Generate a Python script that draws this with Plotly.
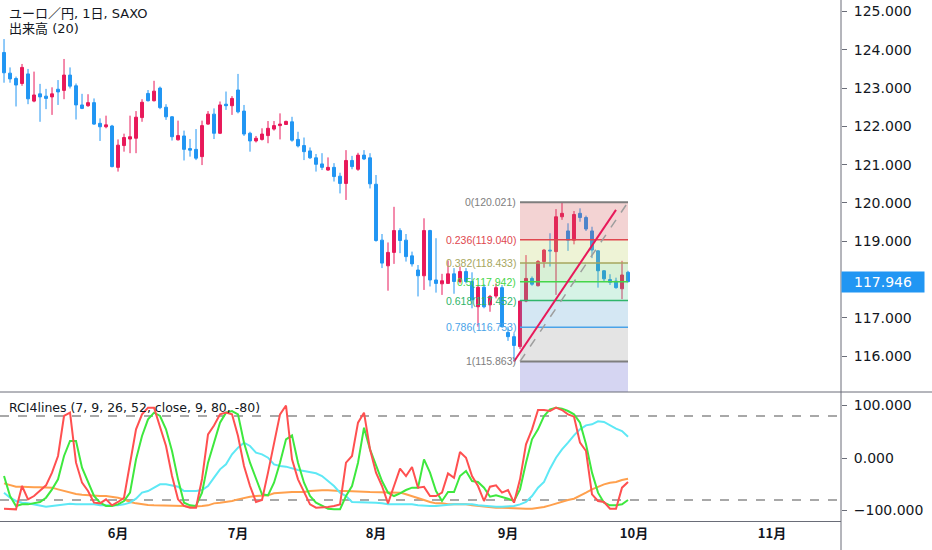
import pandas as pd
import plotly.graph_objects as go

# daily bars, EUR/JPY (SAXO), 2019-05-07 .. 2019-09-30
dates = pd.bdate_range("2019-05-07", "2019-09-30")

opens = [
    123.93, 123.39, 123.25, 123.12, 123.37, 122.66, 122.85, 122.79, 122.77, 122.97,
    122.94, 123.34, 123.06, 122.56, 122.54, 122.62, 122.08, 121.99, 122.01,
    120.93, 121.50, 121.67, 121.69, 122.23, 122.86, 122.67, 123.00, 122.50, 122.25,
    121.65, 121.75, 121.42, 121.40, 121.21, 122.06, 122.32, 121.82, 122.58, 122.54,
    122.95, 122.40, 121.82, 121.62, 121.66, 121.76, 121.93, 122.02, 122.05, 122.12,
    121.66, 121.50, 121.36, 121.18, 121.02, 120.86, 120.93, 120.70, 120.51, 121.11,
    120.88, 121.25, 121.18, 120.49, 119.03, 118.36, 118.71, 119.28, 119.03, 118.62,
    118.25, 118.10, 119.28, 117.99, 117.89, 117.90, 118.15, 117.95, 118.21, 117.95,
    117.29, 117.80, 117.34, 117.57, 117.79, 116.62, 116.51, 116.25, 117.44, 118.03,
    117.84, 118.47, 118.77, 118.73, 119.64, 119.27, 119.03, 119.73, 119.62, 119.27,
    118.75, 118.23, 118.00, 117.96, 117.76, 118.19,
]
highs = [
    124.28, 123.54, 123.30, 123.63, 123.50, 123.43, 123.11, 122.98, 123.02, 123.21,
    123.76, 123.54, 123.12, 122.85, 122.84, 122.73, 122.21, 122.28, 122.04,
    121.66, 121.81, 122.28, 122.40, 122.71, 122.95, 123.19, 123.04, 122.58, 122.27,
    122.15, 121.89, 121.67, 121.93, 122.15, 122.40, 122.47, 122.65, 122.91, 122.79,
    123.37, 122.56, 121.86, 121.75, 121.95, 122.14, 122.14, 122.34, 122.15, 122.25,
    121.86, 121.71, 121.45, 121.28, 121.30, 121.19, 121.04, 120.79, 121.38, 121.23,
    121.31, 121.38, 121.30, 120.73, 119.19, 118.97, 119.90, 119.34, 119.19, 118.73,
    118.38, 119.60, 119.30, 119.08, 118.15, 118.50, 118.30, 118.34, 118.30, 118.19,
    117.86, 117.88, 117.60, 117.90, 117.86, 116.77, 116.60, 117.44, 118.64, 118.08,
    118.51, 118.80, 119.21, 119.84, 120.021, 119.47, 119.79, 119.86, 119.67, 119.38,
    118.77, 118.25, 118.14, 118.05, 118.49, 118.23,
]
lows = [
    123.14, 123.14, 122.52, 123.06, 122.58, 122.63, 122.12, 122.45, 122.30, 122.56,
    122.71, 122.99, 122.18, 122.45, 122.51, 122.04, 121.62, 121.95, 120.93,
    120.82, 121.34, 121.30, 121.30, 122.12, 122.65, 122.65, 122.45, 122.17, 121.63,
    121.63, 121.11, 121.21, 121.12, 120.99, 122.04, 121.67, 121.80, 122.43, 122.30,
    122.34, 121.75, 121.34, 121.58, 121.63, 121.56, 121.89, 121.66, 122.04, 121.60,
    121.45, 121.12, 121.15, 120.82, 120.86, 120.84, 120.56, 120.25, 120.08, 120.88,
    120.84, 121.12, 120.38, 118.99, 118.30, 117.71, 118.41, 118.69, 118.47, 118.34,
    117.56, 117.73, 117.82, 117.66, 117.60, 117.90, 117.63, 117.90, 117.90, 117.25,
    116.77, 117.25, 117.16, 117.51, 116.75, 116.40, 115.863, 116.19, 117.41, 117.84,
    117.82, 118.31, 118.34, 117.60, 119.56, 118.75, 118.92, 119.51, 119.27, 118.56,
    117.79, 117.95, 117.86, 117.76, 117.49, 117.93,
]
closes = [
    123.40, 123.24, 123.08, 123.54, 122.72, 122.82, 122.77, 122.73, 122.85, 122.90,
    123.34, 123.05, 122.56, 122.47, 122.62, 122.06, 121.99, 122.04, 120.95,
    121.51, 121.71, 121.73, 122.24, 122.63, 122.67, 122.92, 122.49, 122.25, 121.73,
    121.76, 121.40, 121.38, 121.17, 122.02, 122.32, 121.82, 122.56, 122.54, 122.73,
    122.38, 121.80, 121.62, 121.69, 121.80, 121.95, 122.02, 122.06, 122.13, 121.64,
    121.49, 121.34, 121.18, 121.01, 120.93, 120.93, 120.69, 120.51, 121.11, 120.95,
    121.25, 121.15, 120.50, 119.02, 118.43, 118.71, 119.28, 119.02, 118.60, 118.41,
    118.10, 119.28, 117.99, 117.90, 117.97, 118.15, 117.95, 118.21, 117.95, 117.47,
    117.80, 117.29, 117.56, 117.79, 116.77, 116.51, 116.28, 117.44, 118.03, 117.88,
    118.47, 118.77, 118.75, 119.64, 119.73, 119.03, 119.70, 119.62, 119.32, 118.77,
    118.23, 118.02, 117.93, 117.79, 118.12, 117.946,
]

# RCI4lines (7, 9, 26, 52)
rci_7 = [
    -96.5, -97.8, -97.8, -53.4, -78.8, -72.4, -62.9, -52.1, -27.9, 3.8,
    80.0, 86.4, -8.9, -47.0, -62.9, -85.1, -86.4, -78.8, -90.2,
    -83.8, -75.6, -8.9, 54.6, 83.2, 95.9, 95.9, 61.0, 22.9, -34.3,
    -78.8, -91.4, -94.6, -94.6, -40.0, 45.0, 62.0, 83.2, 86.4, 83.2,
    41.9, -15.3, -53.4, -83.8, -80.0, -27.9, 29.2, 83.2, 100.0, -2.6,
    -40.7, -66.0, -88.3, -94.6, -94.6, -93.4, -91.4, -88.3, -8.9, 3.8,
    67.3, 86.4, 16.5, -27.9, -53.4, -86.4, -53.4, -20.3, -34.3, -17.2,
    -56.5, -55.0, -72.4, -72.4, -66.0, -29.2, -37.5, 11.4, 0.6, -34.3,
    -53.4, -81.9, -54.6, -52.1, -66.0, -61.0, -85.1, -40.7, 26.0, 54.6,
    91.4, 91.4, 89.5, 95.9, 91.4, 83.2, 78.7, 29.2, 13.3, -69.2,
    -81.9, -83.8, -96.5, -96.5, -56.5, -45.7,
]
rci_9 = [
    -34.3, -72.4, -91.4, -88.3, -88.3, -86.4, -83.8, -75.6, -59.7, -40.7,
    3.8, 32.4, 32.4, -18.4, -47.0, -72.4, -85.1, -91.4, -91.4,
    -88.3, -81.9, -66.0, -2.6, 41.9, 73.6, 86.4, 80.0, 54.6, 13.3,
    -40.7, -85.1, -90.2, -91.4, -66.0, -8.9, 29.2, 67.3, 86.4, 89.5,
    83.2, 29.2, -8.9, -40.7, -69.2, -71.1, -47.0, -8.9, 35.6, 43.2,
    -8.9, -47.0, -72.4, -85.1, -91.4, -96.5, -97.8, -97.8, -72.4, -53.4,
    -8.9, 57.8, 16.5, -15.3, -43.8, -66.0, -72.4, -67.3, -61.0, -56.5,
    -56.5, -2.6, -27.9, -62.9, -81.9, -64.8, -64.8, -34.3, -24.8, -43.8,
    -45.7, -56.5, -73.7, -71.1, -73.7, -77.5, -81.9, -59.7, -8.9, 35.6,
    54.6, 80.0, 92.7, 95.9, 94.0, 89.5, 83.2, 67.3, 26.0, -27.9,
    -66.0, -85.1, -90.2, -90.2, -88.3, -80.0,
]
rci_26 = [
    -66.0, -75.6, -81.9, -85.1, -86.4, -88.3, -91.4, -92.7, -91.4, -90.2,
    -88.3, -87.0, -88.3, -88.3, -89.5, -88.3, -90.2, -90.2, -90.2,
    -90.2, -88.3, -85.1, -77.5, -66.0, -62.9, -56.5, -50.2, -50.2, -52.1,
    -54.6, -62.9, -62.9, -62.9, -61.0, -53.4, -37.5, -21.6, -12.1, 7.0,
    19.7, 29.2, 22.9, 10.2, 7.0, 0.6, -12.1, -15.3, -16.5, -20.3,
    -22.9, -24.8, -26.7, -29.2, -34.3, -43.8, -53.4, -66.0, -72.4, -83.8,
    -83.8, -83.8, -85.1, -85.1, -86.4, -88.3, -88.3, -88.3, -88.3, -88.3,
    -90.2, -91.4, -91.4, -91.4, -90.2, -88.3, -88.3, -88.3, -88.3, -88.3,
    -90.2, -91.4, -92.7, -92.7, -92.7, -92.7, -91.4, -88.3, -83.8, -72.4,
    -56.5, -45.7, -20.3, 0.6, 16.5, 29.2, 43.2, 54.6, 62.2, 64.1,
    69.8, 68.6, 62.2, 55.9, 51.4, 40.6,
]
rci_52 = [
    -48.3, -52.1, -54.6, -54.6, -55.9, -55.9, -55.9, -56.5, -56.5, -59.7,
    -62.9, -66.0, -68.6, -69.9, -71.1, -71.1, -72.4, -72.4, -73.7,
    -75.6, -78.8, -83.8, -86.4, -88.3, -89.5, -90.2, -90.2, -90.2, -90.2,
    -90.2, -91.4, -92.7, -92.7, -91.4, -90.2, -86.4, -85.1, -83.8, -81.9,
    -78.8, -75.6, -73.7, -72.4, -71.1, -71.1, -67.3, -66.0, -66.0, -64.8,
    -64.8, -64.8, -62.9, -61.6, -61.6, -61.6, -62.9, -62.9, -62.9, -62.9,
    -64.1, -64.1, -64.8, -64.8, -64.8, -64.8, -64.8, -66.0, -69.2, -72.4,
    -75.6, -80.0, -83.8, -86.4, -86.4, -88.3, -88.3, -88.3, -88.3, -90.2,
    -91.4, -91.4, -92.7, -94.6, -94.6, -95.3, -96.5, -96.5, -96.5, -96.5,
    -95.3, -93.4, -90.2, -86.4, -83.8, -80.0, -77.5, -72.4, -66.0, -59.7,
    -54.6, -50.2, -47.0, -45.7, -41.9, -39.4,
]

# Fibonacci retracement drawing
fib_ratios = ["0", "0.236", "0.382", "0.5", "0.618", "0.786", "1"]
fib_prices = [120.021, 119.040, 118.433, 117.942, 117.452, 116.753, 115.863]
fib_ext_price = 113.294   # 1.618, below the visible pane
fib_dates = ["2019-09-04", "2019-09-30"]
trend_dates = ["2019-09-03", "2019-09-26"]
trend_prices = [115.863, 119.82]

price_ticks = [116, 117, 119, 120, 121, 122, 123, 124, 125]   # 118 sits under the last-price tag
month_labels = ["6月", "7月", "8月", "9月", "10月", "11月"]
month_nums = [6, 7, 8, 9, 10, 11]

# bar index axis (weekends removed), runs into November
calendar = pd.bdate_range("2019-05-07", "2019-11-29")
pos = {d: i for i, d in enumerate(calendar)}
x = [pos[d] for d in dates]
def xp(s):
    return pos[pd.Timestamp(s)]
month_pos = [pos[calendar[calendar.month == m][0]] for m in month_nums]

fib_line_colors = ["#7e7e7e", "#e0474f", "#a6a65e", "#45d64a", "#2fb56a", "#4aa3e8", "#7e7e7e"]
fib_fill_colors = [
    "rgba(207,79,79,0.25)", "rgba(187,207,91,0.25)", "rgba(99,195,91,0.25)",
    "rgba(91,207,155,0.25)", "rgba(83,159,207,0.25)", "rgba(147,147,147,0.25)",
    "rgba(87,87,203,0.25)",
]

AX = "#6a6d78"
TXT = "#131722"
FONT = "DejaVu Sans, Noto Sans CJK JP"
W_PLOT, H_PLOT = 841, 521

fig = go.Figure()
fig.add_trace(go.Candlestick(
    x=x, open=opens, high=highs, low=lows, close=closes,
    increasing=dict(line=dict(color="#e8195a", width=1), fillcolor="#e8195a"),
    decreasing=dict(line=dict(color="#2196f3", width=1), fillcolor="#2196f3"),
    whiskerwidth=0, showlegend=False, hoverinfo="skip",
    xaxis="x", yaxis="y",
))
for vals, col in [(rci_52, "#ffa04d"), (rci_26, "#5ee8f5"), (rci_9, "#3ee83e"), (rci_7, "#ff5050")]:
    fig.add_trace(go.Scatter(
        x=x, y=vals, mode="lines", line=dict(color=col, width=2),
        showlegend=False, hoverinfo="skip", xaxis="x2", yaxis="y2",
    ))

shapes = []
f0, f1 = xp(fib_dates[0]), xp(fib_dates[1])
bounds = fib_prices + [fib_ext_price]
for k in range(len(bounds) - 1):
    shapes.append(dict(type="rect", xref="x", yref="y", x0=f0, x1=f1,
                       y0=bounds[k], y1=bounds[k + 1], fillcolor=fib_fill_colors[k],
                       line_width=0, layer="above"))
for k, p in enumerate(fib_prices):
    w = 2 if fib_ratios[k] in ("0", "1") else 1.5
    shapes.append(dict(type="line", xref="x", yref="y", x0=f0, x1=f1, y0=p, y1=p,
                       line=dict(color=fib_line_colors[k], width=w), layer="above"))
shapes.append(dict(type="line", xref="x", yref="y", x0=f0, x1=f1,
                   y0=fib_prices[-1], y1=fib_prices[0],
                   line=dict(color="#9e9e9e", width=1.5, dash="dash"), layer="above"))
shapes.append(dict(type="line", xref="x", yref="y",
                   x0=xp(trend_dates[0]), x1=xp(trend_dates[1]),
                   y0=trend_prices[0], y1=trend_prices[1],
                   line=dict(color="#e8195a", width=2), layer="above"))
# RCI 80 / -80 guides
for lvl in (80, -80):
    shapes.append(dict(type="line", xref="paper", yref="y2", x0=0, x1=1, y0=lvl, y1=lvl,
                       line=dict(color="#8c8c8c", width=1.5, dash="dash"), layer="below"))
# pane separator and price-scale border
shapes.append(dict(type="line", xref="paper", yref="paper", x0=0, x1=932 / W_PLOT,
                   y0=(H_PLOT - 392) / H_PLOT, y1=(H_PLOT - 392) / H_PLOT,
                   line=dict(color=AX, width=1)))
shapes.append(dict(type="line", xref="paper", yref="paper", x0=1, x1=1,
                   y0=-29 / H_PLOT, y1=1, line=dict(color=AX, width=1)))

annotations = []
for k, p in enumerate(fib_prices):
    annotations.append(dict(xref="x", yref="y", x=f0, y=p, xanchor="right", yanchor="middle",
                            xshift=-2, showarrow=False,
                            text=f"{fib_ratios[k]}({p:.3f})",
                            font=dict(family="Liberation Sans", size=10.5, color=fib_line_colors[k])))
annotations += [
    dict(xref="paper", yref="paper", x=7 / W_PLOT, y=(H_PLOT - 13) / H_PLOT, xanchor="left",
         yanchor="middle", showarrow=False, text="ユーロ／円, 1日, SAXO",
         font=dict(family=FONT, size=13, color=TXT)),
    dict(xref="paper", yref="paper", x=7 / W_PLOT, y=(H_PLOT - 28) / H_PLOT, xanchor="left",
         yanchor="middle", showarrow=False, text="出来高 (20)",
         font=dict(family=FONT, size=13, color=TXT)),
    dict(xref="paper", yref="paper", x=7 / W_PLOT, y=(H_PLOT - 407) / H_PLOT, xanchor="left",
         yanchor="middle", showarrow=False, text="RCI4lines (7, 9, 26, 52, close, 9, 80, -80)",
         font=dict(family=FONT, size=12.5, color=TXT)),
    dict(xref="paper", yref="y", x=1, y=closes[-1], xanchor="left", yanchor="middle",
         showarrow=False, text=f"{closes[-1]:.3f}", bgcolor="#2196f3", width=78, borderpad=2,
         font=dict(family="DejaVu Sans", size=14, color="white")),
]

fig.update_layout(
    width=932, height=550,
    margin=dict(l=0, r=932 - W_PLOT, t=0, b=550 - H_PLOT),
    paper_bgcolor="white", plot_bgcolor="white",
    shapes=shapes, annotations=annotations,
    xaxis=dict(domain=[0, 1], anchor="y", range=[-0.67, 139.5], showticklabels=False,
               showgrid=False, zeroline=False, rangeslider=dict(visible=False), fixedrange=True),
    yaxis=dict(domain=[(H_PLOT - 392) / H_PLOT, 1], anchor="x", side="right",
               range=[115.065, 125.30], tickvals=price_ticks, tickformat=".3f",
               ticks="outside", ticklen=5, tickcolor=AX, ticklabelstandoff=4,
               showgrid=False, zeroline=False,
               tickfont=dict(family="DejaVu Sans", size=14, color=TXT)),
    xaxis2=dict(domain=[0, 1], anchor="y2", matches="x", showgrid=False, zeroline=False,
                showline=True, linecolor=AX, tickvals=month_pos, ticktext=month_labels,
                ticks="", tickfont=dict(family="Noto Sans CJK JP", size=13, color=TXT,
                                        weight="bold")),
    yaxis2=dict(domain=[0, (H_PLOT - 393) / H_PLOT], anchor="x2", side="right",
                range=[-120, 123.8], tickvals=[-100, 0, 100], tickformat=".3f",
                ticks="outside", ticklen=5, tickcolor=AX, ticklabelstandoff=4,
                showgrid=False, zeroline=False,
                tickfont=dict(family="DejaVu Sans", size=14, color=TXT)),
)

fig.write_html("out.html", config={"displayModeBar": False},
               post_script="document.body.style.margin = '0';")
